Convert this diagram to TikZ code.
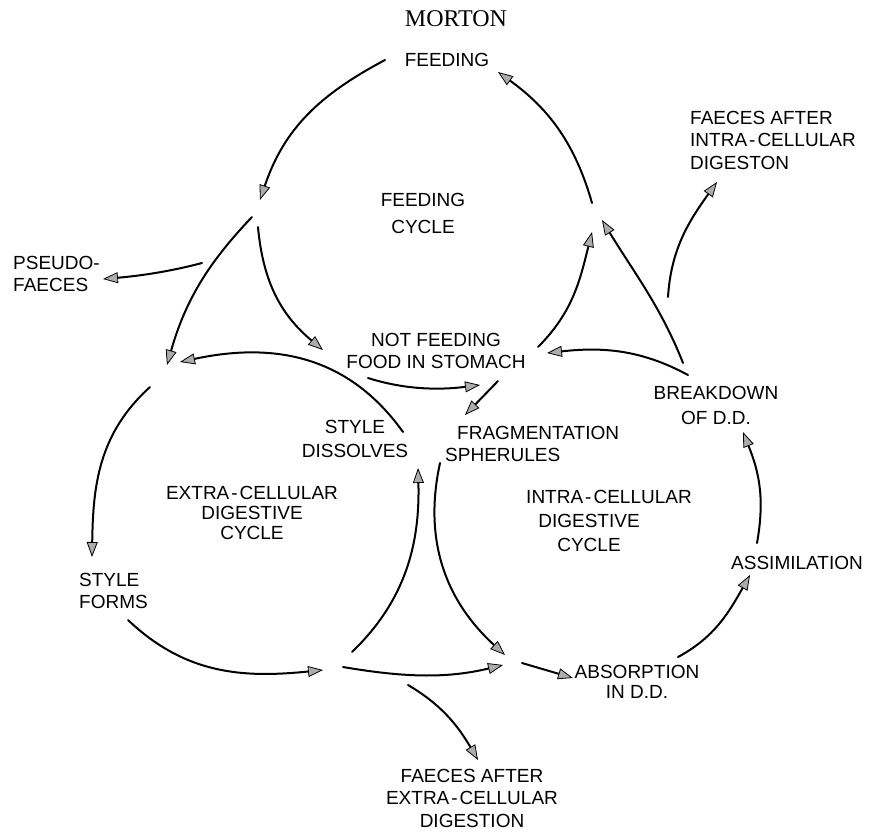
\documentclass[tikz,border=0pt]{standalone}
\usepackage{fontspec}
\setmainfont{Liberation Sans}
\newfontfamily\mortonfont{Liberation Serif}
\usetikzlibrary{arrows.meta}
\newcommand{\hy}{\kern2pt-\kern2pt}
\begin{document}
\begin{tikzpicture}[x=1pt,y=-1pt,
  lbl/.style={inner sep=0pt, font=\fontsize{19}{22.5}\selectfont, align=center},
  conn/.style={line width=2pt, line cap=round,
    -{Triangle[length=15pt,width=11pt,fill=gray!65,line width=0.8pt]}},
]
\useasboundingbox (0,0) rectangle (869,831);

% ---------- labels ----------
\node[inner sep=0pt, font=\mortonfont\fontsize{24}{26}\selectfont] (morton) at (456,19) {MORTON};
\node[lbl] (feeding) at (447,60) {FEEDING};
\node[lbl, font=\fontsize{19}{27}\selectfont] (fcycle) at (423,213) {FEEDING\\CYCLE};
\node[lbl, anchor=west, align=left] (faecesI) at (690,140) {FAECES AFTER\\INTRA\hy CELLULAR\\DIGESTON};
\node[lbl, anchor=west, align=left] (pseudo) at (13,274) {PSEUDO-\\FAECES};
\node[lbl] (notfeeding) at (436,351) {NOT FEEDING\\FOOD IN STOMACH};
\node[lbl, font=\fontsize{19}{24}\selectfont] (styled) at (355,439) {STYLE\\DISSOLVES};
\node[lbl, anchor=west, align=left] (frag) at (445,444) {\hspace*{12pt}FRAGMENTATION\\SPHERULES};
\node[lbl, font=\fontsize{19}{25}\selectfont] (breakdown) at (716,405) {BREAKDOWN\\OF D.D.};
\node[lbl, font=\fontsize{19}{20}\selectfont] (ecycle) at (252,513) {EXTRA\hy CELLULAR\\DIGESTIVE\\CYCLE};
\node[lbl, font=\fontsize{19}{24}\selectfont] (icycle) at (589,521) {\hspace*{40pt}INTRA\hy CELLULAR\\DIGESTIVE\\CYCLE};
\node[lbl, anchor=west, align=left] (styleforms) at (79,591) {STYLE\\FORMS};
\node[lbl, font=\fontsize{19}{20}\selectfont] (absorption) at (637,682) {ABSORPTION\\IN D.D.};
\node[lbl] (assim) at (797,563) {ASSIMILATION};
\node[lbl] (faecesE) at (472,798) {FAECES AFTER\\EXTRA\hy CELLULAR\\DIGESTION};

% ---------- connector end points ----------
\coordinate (a1) at (385,60);  \coordinate (a2) at (260,200);
\coordinate (b1) at (592,203); \coordinate (b2) at (498,72);
\coordinate (c1) at (252,217); \coordinate (c2) at (167,365);
\coordinate (d1) at (258,227); \coordinate (d2) at (323,350);
\coordinate (e1) at (202,263); \coordinate (e2) at (103,279);
\coordinate (f1) at (403,432); \coordinate (f2) at (180,362);
\coordinate (g1) at (368,378); \coordinate (g2) at (480,385);
\coordinate (h1) at (498,381); \coordinate (h2) at (465,415);
\coordinate (i1) at (688,375); \coordinate (i2) at (547,353);
\coordinate (j1) at (538,347); \coordinate (j2) at (592,232);
\coordinate (k1) at (683,363); \coordinate (k2) at (602,220);
\coordinate (l1) at (668,297); \coordinate (l2) at (717,182);
\coordinate (m1) at (757,543); \coordinate (m2) at (743,432);
\coordinate (n1) at (678,657); \coordinate (n2) at (750,575);
\coordinate (o1) at (522,663); \coordinate (o2) at (573,678);
\coordinate (p1) at (440,463); \coordinate (p2) at (505,655);
\coordinate (q1) at (128,620); \coordinate (q2) at (323,670);
\coordinate (r1) at (352,652); \coordinate (r2) at (418,468);
\coordinate (s1) at (343,667); \coordinate (s2) at (503,665);
\coordinate (t1) at (408,685); \coordinate (t2) at (478,760);
\coordinate (u1) at (150,387); \coordinate (u2) at (92,557);

% ---------- connectors ----------
\draw[conn] (a1) .. controls +(-66,35) and +(24,-71) .. (a2);
\draw[conn] (b1) .. controls +(-17,-60) and +(50,36) .. (b2);
\draw[conn] (c1) .. controls +(-45,47) and +(18,-63) .. (c2);
\draw[conn] (d1) .. controls +(5,55) and +(-42,-35) .. (d2);
\draw[conn] (e1) .. controls +(-34,9) and +(35,-3) .. (e2);
\draw[conn] (f1) .. controls +(-55,-77) and +(93,-20) .. (f2);
\draw[conn] (g1) .. controls +(38,12) and +(-40,5) .. (g2);
\draw[conn] (h1) -- (h2);
\draw[conn] (i1) .. controls +(-48,-26) and +(54,-6) .. (i2);
\draw[conn] (j1) .. controls +(35,-35) and +(-12,48) .. (j2);
\draw[conn] (k1) .. controls +(-22,-56) and +(31,51) .. (k2);
\draw[conn] (l1) .. controls +(3,-48) and +(-28,39) .. (l2);
\draw[conn] (m1) .. controls +(8,-45) and +(16,40) .. (m2);
\draw[conn] (n1) .. controls +(37,-20) and +(-21,37) .. (n2);
\draw[conn] (o1) -- (o2);
\draw[conn] (p1) .. controls +(-17,78) and +(-59,-54) .. (p2);
\draw[conn] (q1) .. controls +(58,55) and +(-79,8) .. (q2);
\draw[conn] (r1) .. controls +(54,-52) and +(2,75) .. (r2);
\draw[conn] (s1) .. controls +(59,10) and +(-58,14) .. (s2);
\draw[conn] (t1) .. controls +(34,20) and +(-20,-34) .. (t2);
\draw[conn] (u1) .. controls +(-52,47) and +(1,-70) .. (u2);
\end{tikzpicture}
\end{document}
